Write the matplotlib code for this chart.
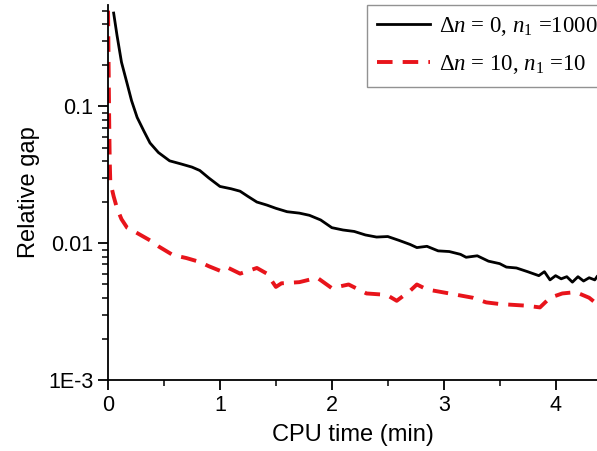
import matplotlib
matplotlib.use("Agg")
import matplotlib.pyplot as plt
from matplotlib.ticker import FixedLocator, LogLocator, MultipleLocator, NullFormatter

# Data
black_x = [0.05, 0.08, 0.12, 0.17, 0.21, 0.26, 0.32, 0.375, 0.45, 0.55, 0.65, 0.75, 0.82, 0.9, 1.0,
           1.1, 1.18, 1.25, 1.33, 1.42, 1.5, 1.6, 1.71, 1.8, 1.9, 2.0, 2.1, 2.2, 2.3, 2.4, 2.5, 2.6,
           2.7, 2.76, 2.85, 2.95, 3.05, 3.15, 3.2, 3.3, 3.4, 3.5, 3.56, 3.65, 3.75, 3.85, 3.9, 3.95,
           4.0, 4.05, 4.1, 4.15, 4.2, 4.25, 4.3, 4.35, 4.37]
black_y = [0.48, 0.33, 0.21, 0.147, 0.11, 0.083, 0.066, 0.054, 0.046, 0.040, 0.038, 0.036, 0.034,
           0.030, 0.026, 0.025, 0.024, 0.022, 0.020, 0.019, 0.018, 0.017, 0.0166, 0.016, 0.0148,
           0.013, 0.0125, 0.0122, 0.0115, 0.0111, 0.0112, 0.0105, 0.0098, 0.0093, 0.0095, 0.0088,
           0.0087, 0.0083, 0.0079, 0.0081, 0.0074, 0.0071, 0.0067, 0.0066, 0.0062, 0.0058, 0.0062,
           0.0054, 0.0058, 0.0055, 0.0057, 0.0052, 0.0057, 0.0053, 0.0056, 0.0054, 0.0057]

red_x = [0.0, 0.005, 0.01, 0.015, 0.02, 0.05, 0.08, 0.12, 0.17, 0.25, 0.375, 0.45, 0.58, 0.7, 0.82,
         0.9, 1.0, 1.06, 1.18, 1.33, 1.42, 1.5, 1.55, 1.71, 1.87, 2.0, 2.15, 2.31, 2.49, 2.58, 2.7,
         2.76, 2.85, 3.05, 3.26, 3.38, 3.5, 3.74, 3.86, 3.95, 4.06, 4.18, 4.3, 4.37]
red_y = [0.5, 0.2, 0.08, 0.04, 0.028, 0.022, 0.018, 0.015, 0.013, 0.012, 0.0105, 0.0095, 0.0082,
         0.0078, 0.0073, 0.0068, 0.0063, 0.0067, 0.006, 0.0066, 0.006, 0.0048, 0.0051, 0.0052,
         0.0056, 0.0047, 0.005, 0.0043, 0.0042, 0.0038, 0.0045, 0.005, 0.0046, 0.0043, 0.004,
         0.0037, 0.0036, 0.0035, 0.0034, 0.004, 0.0043, 0.0044, 0.004, 0.0036]

series_labels = [r'$\Delta n$ = 0, $n_{1}$ =1000', r'$\Delta n$ = 10, $n_{1}$ =10']
y_ticks = [0.001, 0.01, 0.1]
y_tick_labels = ['1E-3', '0.01', '0.1']
x_ticks = [0, 1, 2, 3, 4]
x_tick_labels = ['0', '1', '2', '3', '4']

plt.rcParams['font.family'] = ['Liberation Sans', 'DejaVu Sans']
plt.rcParams['mathtext.fontset'] = 'custom'
plt.rcParams['mathtext.rm'] = 'Liberation Serif'
plt.rcParams['mathtext.it'] = 'Liberation Serif:italic'

fig = plt.figure(figsize=(5.97, 4.51), dpi=100)
ax = fig.add_axes([0.181, 0.157, 0.819, 0.832])

ax.plot(black_x, black_y, color='black', lw=2.0, label=series_labels[0])
ax.plot(red_x, red_y, color='#e8141b', lw=2.8, dashes=(4, 2.6), label=series_labels[1])

ax.set_yscale('log')
ax.set_xlim(0, 4.37)
ax.set_ylim(0.001, 0.55)

ax.yaxis.set_major_locator(FixedLocator(y_ticks))
ax.set_yticklabels(y_tick_labels)
ax.yaxis.set_minor_locator(LogLocator(base=10, subs=range(2, 10)))
ax.yaxis.set_minor_formatter(NullFormatter())
ax.set_xticks(x_ticks)
ax.set_xticklabels(x_tick_labels)
ax.xaxis.set_minor_locator(MultipleLocator(0.5))

for s in ['top', 'right']:
    ax.spines[s].set_visible(False)
for s in ['left', 'bottom']:
    ax.spines[s].set_linewidth(1.3)

ax.tick_params(axis='both', which='major', direction='out', length=7, width=1.3, labelsize=15.5)
ax.tick_params(axis='both', which='minor', direction='out', length=4, width=1.1)

ax.set_xlabel('CPU time (min)', fontsize=17, labelpad=6)
ax.set_ylabel('Relative gap', fontsize=17, labelpad=6)

leg = fig.legend(loc='upper left', bbox_to_anchor=(367 / 597, 1 - 5 / 451),
                 prop={'family': 'Liberation Serif', 'size': 16.5},
                 frameon=True, fancybox=False, edgecolor='#777777',
                 handlelength=2.3, handletextpad=0.4, borderpad=0.45, labelspacing=0.65,
                 borderaxespad=0)
leg.get_frame().set_linewidth(1.0)

fig.savefig('out.png', dpi=100)
